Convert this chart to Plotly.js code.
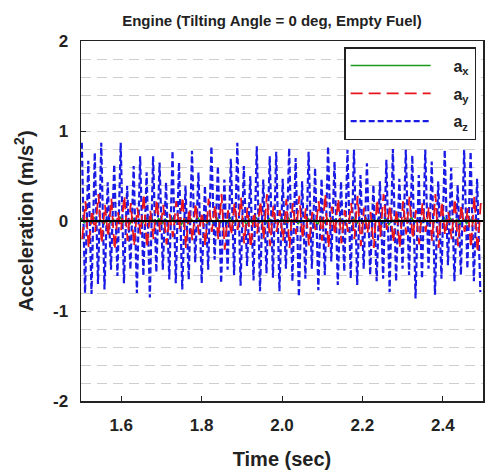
<!DOCTYPE html>
<html>
<head>
<meta charset="utf-8">
<script src="https://cdn.plot.ly/plotly-3.0.1.min.js"></script>
<style>html,body{margin:0;padding:0;background:#fff;}#chart{width:486px;height:472px;}</style>
</head>
<body>
<div id="chart"></div>
<script>
// Time axis
var tStart = 1.5;
var tStep = 0.00806;
var xTickVals = [1.6, 1.8, 2.0, 2.2, 2.4];
var xTickText = ["1.6", "1.8", "2.0", "2.2", "2.4"];
var yTickVals = [-2, -1, 0, 1, 2];
var yTickText = ["-2", "-1", "0", "1", "2"];

// a_z : successive positive peaks and negative troughs (m/s^2)
var azPeaks = [0.87,0.67,0.76,0.87,0.43,0.63,0.87,0.39,0.61,0.72,0.54,0.72,0.65,0.43,0.78,0.65,0.39,0.78,0.54,0.39,0.83,0.61,0.46,0.69,0.87,0.61,0.50,0.83,0.46,0.72,
               0.77,0.47,0.81,0.70,0.44,0.77,0.59,0.47,0.83,0.66,0.44,0.79,0.79,0.51,0.64,0.40,0.44,0.68,0.80,0.47,0.79,0.73,0.51,0.79,0.66,0.44,0.79,0.59,0.40,0.79,0.77,0.47];
var azTroughs = [-0.80,-0.81,-0.70,-0.76,-0.54,-0.61,-0.69,-0.54,-0.80,-0.61,-0.85,-0.57,-0.54,-0.65,-0.69,-0.76,-0.65,-0.46,-0.69,-0.54,-0.43,-0.69,-0.54,-0.60,-0.72,-0.50,-0.66,-0.78,-0.58,-0.63,
                 -0.78,-0.53,-0.67,-0.84,-0.64,-0.53,-0.77,-0.60,-0.45,-0.71,-0.56,-0.64,-0.71,-0.53,-0.60,-0.67,-0.64,-0.79,-0.67,-0.53,-0.60,-0.86,-0.64,-0.53,-0.82,-0.64,-0.49,-0.67,-0.60,-0.53,-0.67,-0.79];

// a_y : successive peaks and troughs (m/s^2)
var ayPeaks = [0.22,0.12,0.30,0.18,0.25,0.10,0.28,0.20,0.15,0.30,0.12,0.24,0.18,0.08,0.22,0.27,0.14,0.20,0.10,0.25,0.18,0.30,0.12,0.20,0.26,0.15,0.10,0.22,0.30,0.17,0.12,
               0.24,0.20,0.28,0.14,0.10,0.22,0.30,0.16,0.25,0.12,0.20,0.28,0.15,0.10,0.24,0.30,0.18,0.13,0.22,0.27,0.12,0.20,0.16,0.30,0.22,0.10,0.25,0.18,0.14,0.28,0.20];
var ayTroughs = [-0.20,-0.30,-0.12,-0.25,-0.18,-0.32,-0.10,-0.22,-0.28,-0.15,-0.30,-0.20,-0.12,-0.26,-0.18,-0.10,-0.30,-0.22,-0.15,-0.28,-0.12,-0.20,-0.32,-0.16,-0.10,-0.25,-0.30,-0.14,-0.20,-0.28,-0.12,
                 -0.22,-0.30,-0.15,-0.20,-0.27,-0.10,-0.22,-0.30,-0.16,-0.25,-0.12,-0.20,-0.28,-0.14,-0.30,-0.18,-0.10,-0.24,-0.30,-0.15,-0.20,-0.26,-0.12,-0.22,-0.30,-0.16,-0.20,-0.28,-0.12,-0.30,-0.35];

// a_x : small oscillation around zero (m/s^2)
var axPeaks = [0.03,0.02,0.04,0.01,0.03,0.02,0.05,0.02,0.03,0.01,0.04,0.02,0.03,0.02,0.04,0.01,0.03,0.02,0.04,0.03,0.02,0.03,0.01,0.04,0.02,0.03,0.02,0.04,0.01,0.03,0.02,
               0.03,0.04,0.02,0.01,0.03,0.02,0.04,0.03,0.02,0.03,0.01,0.04,0.02,0.03,0.02,0.04,0.03,0.01,0.02,0.03,0.04,0.02,0.03,0.01,0.02,0.04,0.03,0.02,0.03,0.02,0.03];
var axTroughs = [-0.02,-0.03,-0.01,-0.04,-0.02,-0.03,-0.02,-0.04,-0.01,-0.03,-0.02,-0.04,-0.03,-0.01,-0.02,-0.04,-0.03,-0.02,-0.01,-0.03,-0.04,-0.02,-0.03,-0.02,-0.01,-0.04,-0.03,-0.02,-0.03,-0.01,-0.02,
                 -0.04,-0.02,-0.03,-0.01,-0.02,-0.04,-0.03,-0.02,-0.01,-0.03,-0.02,-0.04,-0.03,-0.02,-0.01,-0.03,-0.04,-0.02,-0.03,-0.01,-0.02,-0.03,-0.04,-0.02,-0.01,-0.03,-0.02,-0.04,-0.03,-0.02,-0.03];

function interleave(a, b) {
  var out = [];
  var n = Math.min(a.length, b.length);
  for (var i = 0; i < n; i++) { out.push(a[i]); out.push(b[i]); }
  return out;
}

var az = interleave(azPeaks, azTroughs);
var ay = interleave(ayTroughs, ayPeaks);
var ax = interleave(axPeaks, axTroughs);

var FONT = "Arial, 'Liberation Sans', sans-serif";
var PAD = '&nbsp;&nbsp;&nbsp;&nbsp;';

var traces = [
  {type: 'scatter', mode: 'lines', name: PAD + 'a<sub>x</sub>', y: ax, x0: tStart, dx: tStep,
   legendrank: 1, legendgroup: 'gx',
   line: {color: '#1a9a1a', width: 1.5}},
  {type: 'scatter', mode: 'lines', name: PAD + 'a<sub>z</sub>', y: az, x0: tStart + 0.002, dx: tStep,
   legendrank: 3, legendgroup: 'gz',
   line: {color: '#1a1ae6', width: 2.2, dash: '6px,3px'}},
  {type: 'scatter', mode: 'lines', name: PAD + 'a<sub>y</sub>', y: ay, x0: tStart + 0.003, dx: tStep,
   legendrank: 2, legendgroup: 'gy',
   line: {color: '#e8141e', width: 1.8, dash: '12px,6px'}}
];

var layout = {
  width: 486, height: 472,
  margin: {l: 81, r: 3, t: 41, b: 71},
  paper_bgcolor: '#fff', plot_bgcolor: '#fff',
  font: {family: FONT, color: '#111'},
  showlegend: true,
  title: {text: '<b>Engine (Tilting Angle = 0 deg, Empty Fuel)</b>', font: {size: 15, family: FONT, color: '#222'},
          xref: 'paper', x: 0.475, xanchor: 'center', yref: 'container', y: 0.957, yanchor: 'middle'},
  xaxis: {
    range: [1.5, 2.5], tickvals: xTickVals, ticktext: xTickText,
    ticks: 'inside', ticklen: 5, tickwidth: 1, tickcolor: '#222', ticklabelstandoff: 8,
    showgrid: false, zeroline: false, showline: true, linecolor: '#222', linewidth: 1.5, mirror: true,
    tickfont: {size: 17, family: FONT, color: '#222', weight: 'bold'},
    title: {text: '<b>Time (sec)</b>', font: {size: 20, family: FONT, color: '#222'}, standoff: 18}
  },
  yaxis: {
    range: [-2, 2], tickvals: yTickVals, ticktext: yTickText,
    ticks: 'inside', ticklen: 5, tickwidth: 1, tickcolor: '#222', ticklabelstandoff: 8,
    showgrid: true, gridcolor: '#cfcfcf', griddash: '10px,6px', gridwidth: 1,
    minor: {dtick: 0.2, tick0: 0, showgrid: true, gridcolor: '#cfcfcf', griddash: '10px,6px', gridwidth: 1, ticks: ''},
    zeroline: false, showline: true, linecolor: '#222', linewidth: 1.5, mirror: true,
    tickfont: {size: 17, family: FONT, color: '#222', weight: 'bold'},
    title: {text: '<b>Acceleration (m/s<sup>2</sup>)</b>', font: {size: 20, family: FONT, color: '#222'}, standoff: 14}
  },
  legend: {
    x: 0.983, xanchor: 'right', y: 0.983, yanchor: 'top',
    bgcolor: '#fff', bordercolor: '#222', borderwidth: 1.5,
    font: {size: 16, family: FONT, color: '#222', weight: 'bold'},
    itemwidth: 80, tracegroupgap: 4, traceorder: 'grouped'
  },
  shapes: [
    {type: 'line', xref: 'paper', x0: 0, x1: 1, yref: 'y', y0: 0, y1: 0, layer: 'above',
     line: {color: '#000', width: 2}}
  ]
};

Plotly.newPlot('chart', traces, layout, {displayModeBar: false, staticPlot: true});
</script>
</body>
</html>
